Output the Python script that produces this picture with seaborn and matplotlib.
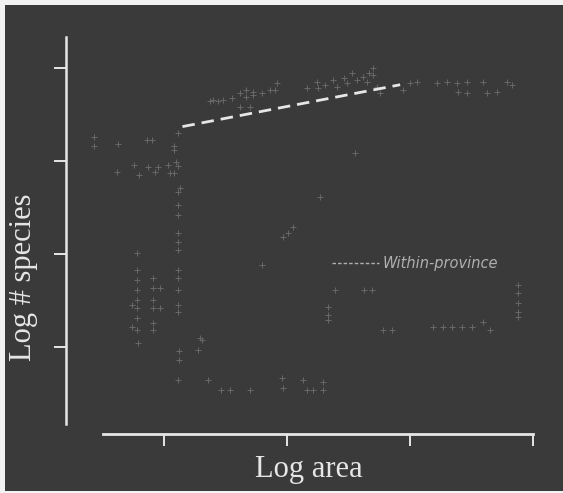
import matplotlib
matplotlib.use("Agg")
import matplotlib.pyplot as plt
from matplotlib.patches import Rectangle
import seaborn as sns
import pandas as pd

# ---- data (log area, log # species) ----
log_area = [
    0.43, 0.43, 0.63, 0.86, 0.90, 0.62,
    0.76, 0.80, 0.87, 0.93, 0.95, 1.03, 1.05, 1.11, 1.08,
    1.11, 1.08, 1.08, 1.10, 1.13, 1.11, 1.11, 1.11, 1.11, 1.11, 1.11, 1.11, 1.11, 1.11, 1.11, 1.11, 1.12, 1.12,
    0.78, 0.78, 0.78, 0.78, 0.78, 0.78, 0.78, 0.78, 0.79, 0.74, 0.74,
    0.91, 0.91, 0.91, 0.91, 0.91, 0.91, 0.97, 0.97,
    1.29, 1.28, 1.31,
    1.80, 1.97, 2.01, 2.05, 2.27, 2.55,
    1.11, 1.36, 1.46, 1.54, 1.70, 1.96, 1.97, 2.13, 2.16, 2.21, 2.29, 2.29,
    2.39, 2.63, 2.69, 2.33, 2.33, 2.33, 2.78, 2.85, 3.19, 3.27, 3.34, 3.42, 3.50, 3.59, 3.65,
    3.88, 3.88, 3.88, 3.88, 3.88,
    1.37, 1.44, 1.40, 1.48, 1.55, 1.62, 1.67, 1.72, 1.80, 1.67, 1.72, 1.86, 1.92, 1.90, 1.62, 1.70,
    2.16, 2.24, 2.25, 2.31, 2.37, 2.41, 2.46, 2.53, 2.57, 2.62, 2.67, 2.65, 2.49,
    2.70, 2.70, 2.73, 2.76, 2.94, 3.00, 3.06, 3.22, 3.30, 3.38, 3.46, 3.39, 3.46, 3.59, 3.63, 3.71, 3.79, 3.83,
]
log_species = [
    3.26, 3.16, 3.18, 3.23, 3.23, 2.88,
    2.96, 2.85, 2.94, 2.88, 2.94, 2.96, 2.87, 2.95, 2.87,
    3.30, 3.16, 3.12, 2.99, 2.71, 2.67, 2.53, 2.42, 2.23, 2.13, 2.04, 1.83, 1.74, 1.61, 1.45, 1.38, 0.96, 0.86,
    2.01, 1.83, 1.72, 1.61, 1.51, 1.42, 1.31, 1.18, 1.04, 1.45, 1.22,
    1.74, 1.63, 1.51, 1.42, 1.26, 1.18, 1.63, 1.42,
    1.10, 0.97, 1.08,
    1.88, 2.18, 2.23, 2.29, 2.61, 3.09,
    0.65, 0.65, 0.54, 0.54, 0.54, 0.67, 0.56, 0.65, 0.54, 0.54, 0.62, 0.54,
    1.61, 1.61, 1.61, 1.43, 1.34, 1.29, 1.18, 1.18, 1.22, 1.22, 1.22, 1.22, 1.22, 1.27, 1.18,
    1.67, 1.58, 1.47, 1.38, 1.32,
    3.65, 3.65, 3.66, 3.66, 3.68, 3.73, 3.69, 3.74, 3.73, 3.76, 3.71, 3.76, 3.84, 3.76, 3.58, 3.58,
    3.78, 3.85, 3.78, 3.82, 3.87, 3.80, 3.89, 3.95, 3.87, 3.90, 3.95, 3.85, 3.84,
    4.00, 3.92, 3.80, 3.73, 3.76, 3.84, 3.85, 3.84, 3.85, 3.84, 3.85, 3.74, 3.73, 3.85, 3.73, 3.74, 3.85, 3.82,
]

fit_area = [1.15, 2.92]
fit_species = [3.37, 3.82]
fit_label = "Within-province"

x_ticks = [1, 2, 3, 4]
y_ticks = [1, 2, 3, 4]

BG = "#3a3a3a"
FG = "#e6e6e6"

fig = plt.figure(figsize=(5.63, 4.93), dpi=100)
fig.patch.set_facecolor("#f2f2f2")
fig.add_artist(Rectangle((5 / 563, 2 / 493), 1, 486 / 493, transform=fig.transFigure,
                         facecolor=BG, edgecolor="none", zorder=-10))

ax = fig.add_axes([66 / 563, 59 / 493, 474 / 563, 404 / 493])
ax.set_facecolor(BG)

pts = pd.DataFrame({"area": log_area, "species": log_species})
sns.scatterplot(data=pts, x="area", y="species", marker="+", s=15,
                color="#686868", linewidth=0.7, ax=ax, legend=False)

fit = pd.DataFrame({"area": fit_area, "species": fit_species})
sns.lineplot(data=fit, x="area", y="species", color=FG, linewidth=2.0,
             dashes=False, ax=ax, label=fit_label)
line = ax.get_lines()[-1]
line.set_dashes((4.5, 2.5))

ax.set_xlim(1 - 98 / 123, 4 + 7 / 123)
ax.set_ylim(1 - 87 / 93, 4 + 38 / 93)

for s in ["top", "right"]:
    ax.spines[s].set_visible(False)
ax.spines["left"].set_color(FG)
ax.spines["left"].set_linewidth(1.8)
ax.spines["left"].set_bounds(1 - 77 / 93, 4 + 31 / 93)
ax.spines["bottom"].set_color(FG)
ax.spines["bottom"].set_linewidth(2.0)
ax.spines["bottom"].set_bounds(1 - 61 / 123, 4.0)

ax.set_xticks(x_ticks)
ax.set_yticks(y_ticks)
ax.set_xticklabels([])
ax.set_yticklabels([])
ax.tick_params(axis="both", direction="out", length=8.5, width=1.4, color=FG)
ax.set_xlabel("")
ax.set_ylabel("")

leg = ax.legend(loc="center left", bbox_to_anchor=(0.561, 0.423), frameon=False,
                borderaxespad=0, borderpad=0, handlelength=3.2, handletextpad=0.25,
                prop={"family": "DejaVu Sans", "style": "italic", "size": 10.5})
for t in leg.get_texts():
    t.set_color("#b0b0b0")
for l in leg.get_lines():
    l.set_linewidth(1.0)
    l.set_color("#b0b0b0")
    l.set_dashes((2.5, 1.5))

fig.text(309 / 563, 23 / 493, "Log area", ha="center", va="center",
         family="Liberation Serif", fontsize=22, color=FG)
fig.text(24 / 563, 216 / 493, "Log # species", ha="center", va="center", rotation=90,
         family="Liberation Serif", fontsize=22, color=FG)

fig.savefig("out.png", dpi=100, facecolor=fig.get_facecolor())
